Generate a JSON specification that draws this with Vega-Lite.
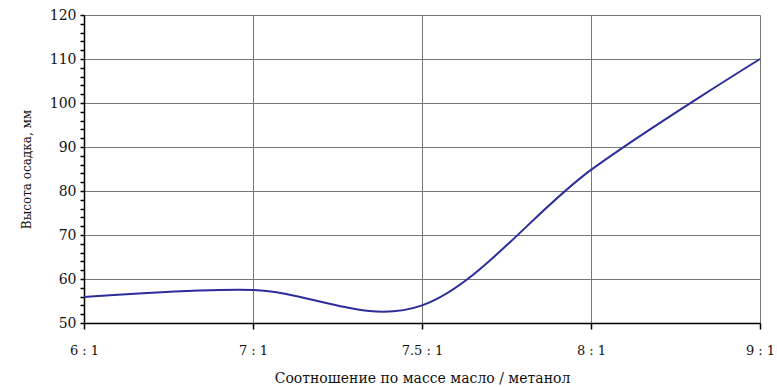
{
  "$schema": "https://vega.github.io/schema/vega-lite/v6.json",
  "autosize": "none",
  "width": 676,
  "height": 308,
  "padding": {"left": 84, "top": 15, "right": 17, "bottom": 64},
  "background": "white",
  "config": {"view": {"stroke": null}, "font": "DejaVu Serif"},
  "data": {"values": [
    {"ratio": "6 : 1", "h": 55.9},
    {"ratio": "7 : 1", "h": 57.5},
    {"ratio": "7.5 : 1", "h": 54},
    {"ratio": "8 : 1", "h": 84.8},
    {"ratio": "9 : 1", "h": 110}
  ]},
  "mark": {"type": "line", "interpolate": "cardinal", "tension": 0, "color": "#2c2c9a", "strokeWidth": 2},
  "encoding": {
    "x": {
      "field": "ratio", "type": "ordinal", "sort": null,
      "scale": {"type": "point", "padding": 0},
      "axis": {
        "title": "Соотношение по массе масло / метанол",
        "titleFont": "DejaVu Serif", "titleFontSize": 14, "titleFontWeight": "normal", "titleColor": "#111",
        "titlePadding": 14,
        "labelFont": "DejaVu Serif", "labelFontSize": 13, "labelColor": "#111", "labelPadding": 15,
        "labelAngle": 0,
        "domainColor": "#000", "domainWidth": 1.5,
        "tickColor": "#000", "tickSize": 6, "tickWidth": 1.5,
        "grid": true, "gridColor": "#777", "gridWidth": 1
      }
    },
    "y": {
      "field": "h", "type": "quantitative",
      "scale": {"domain": [50, 120], "nice": false, "zero": false},
      "axis": {
        "title": "Высота осадка, мм",
        "titleFont": "DejaVu Serif", "titleFontSize": 12, "titleFontWeight": "normal", "titleColor": "#111",
        "titlePadding": 16,
        "values": [50,52,54,56,58,60,62,64,66,68,70,72,74,76,78,80,82,84,86,88,90,92,94,96,98,100,102,104,106,108,110,112,114,116,118,120],
        "labelExpr": "datum.value % 10 === 0 ? datum.value : ''",
        "labelFont": "DejaVu Serif", "labelFontSize": 14, "labelColor": "#111", "labelPadding": 4,
        "domainColor": "#000", "domainWidth": 1.5,
        "tickColor": "#000", "tickSize": 4, "tickWidth": 1.5,
        "grid": true, "gridColor": "#777", "gridWidth": 1,
        "gridOpacity": {"condition": {"test": "datum.value % 10 === 0", "value": 1}, "value": 0}
      }
    }
  }
}
